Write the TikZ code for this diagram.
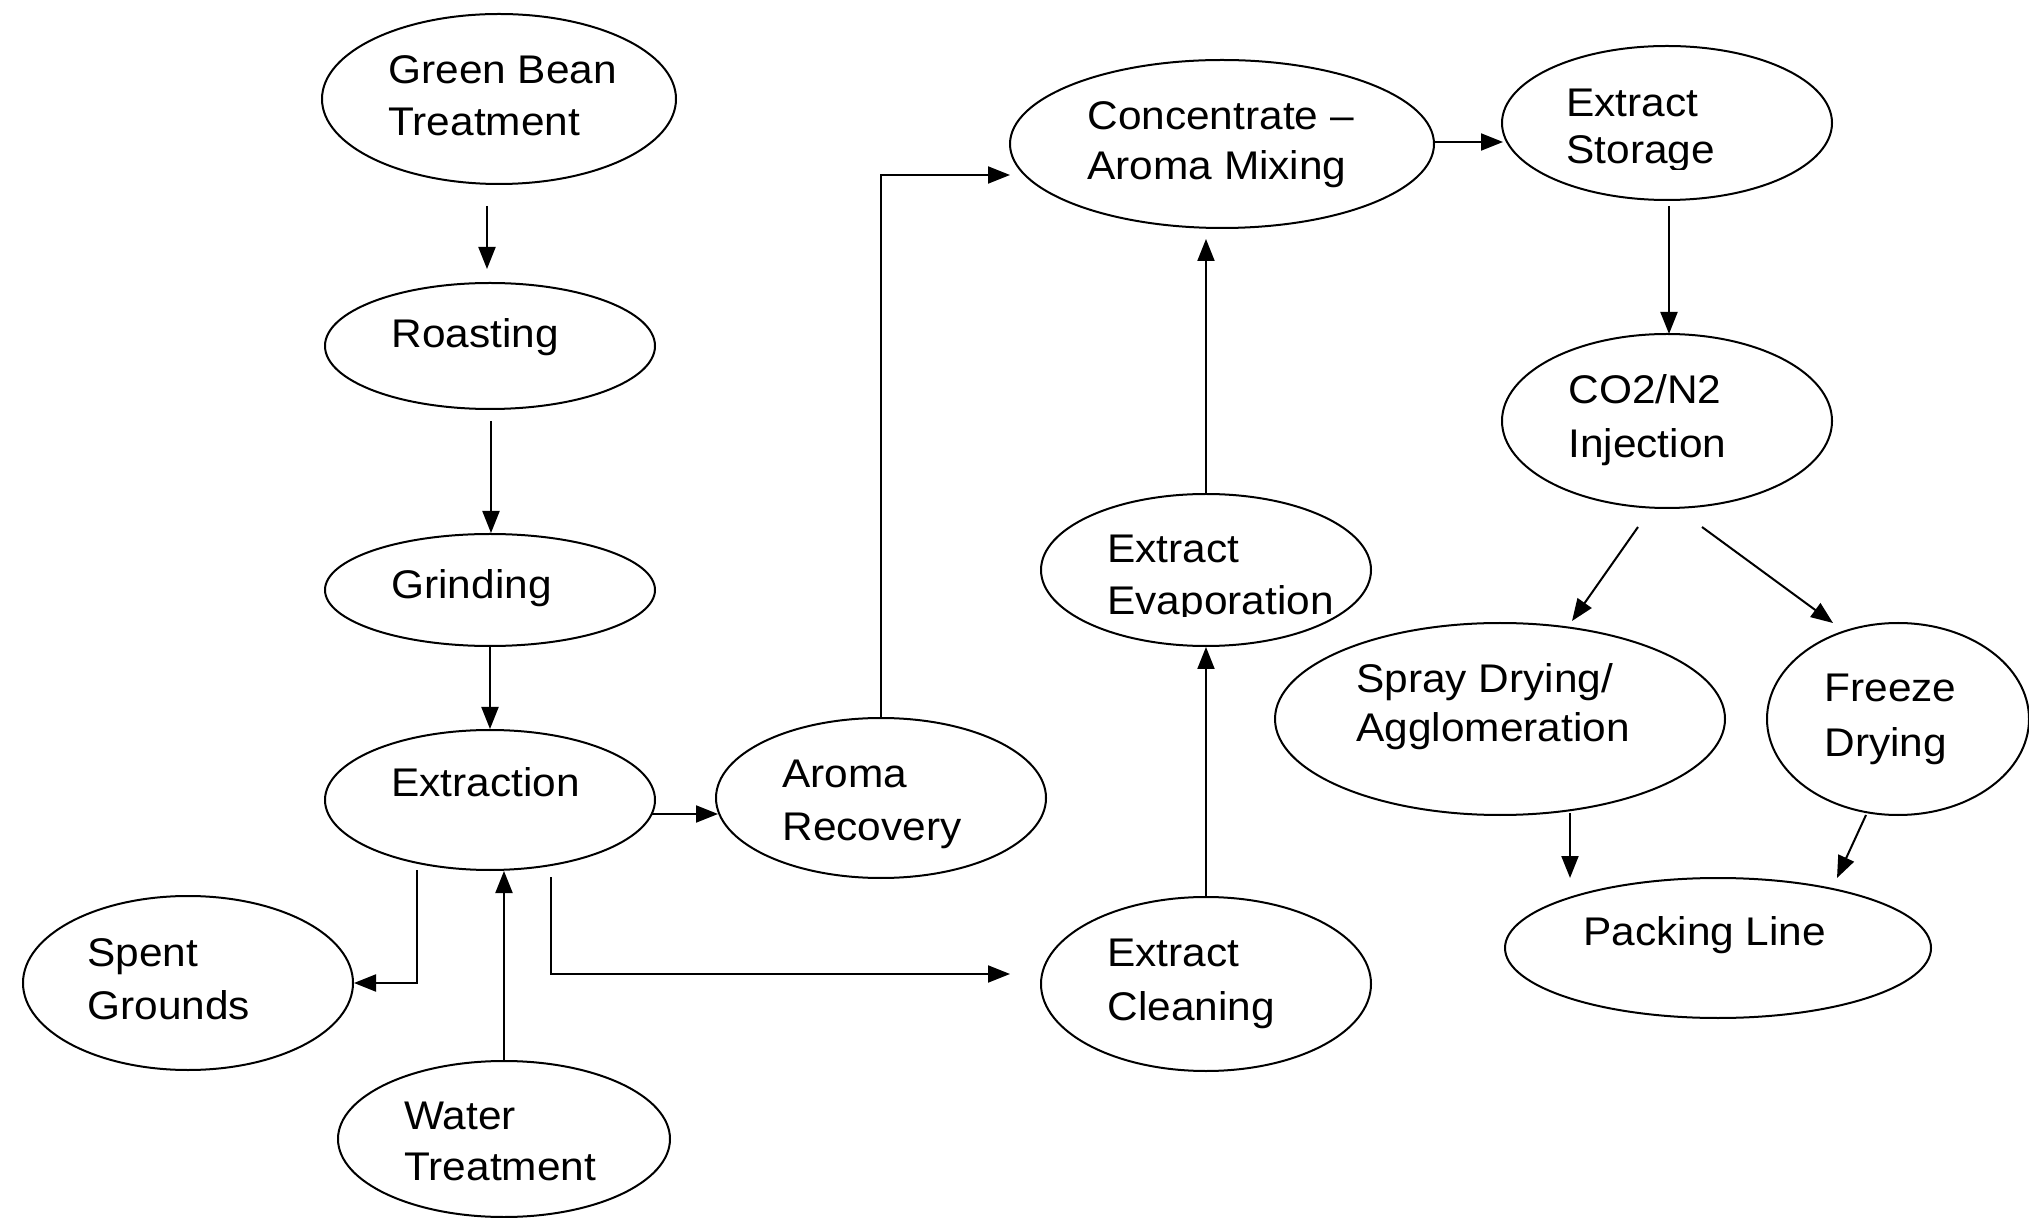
\documentclass[tikz,border=0pt]{standalone}
\usepackage{fontspec}
\setmainfont{Liberation Sans}[FakeStretch=1.06]
\usetikzlibrary{shapes.geometric,arrows.meta}
\tikzset{
  ell/.style={draw, ellipse, inner sep=0pt, line width=1pt},
  lbl/.style={anchor=base west, inner sep=0pt, font=\fontsize{20}{24}\selectfont},
  arr/.style={-{Triangle[length=11pt,width=8.5pt]}, line width=1pt},
}
\begin{document}
\begin{tikzpicture}[x=0.5pt,y=-0.5pt]
\useasboundingbox (0,0) rectangle (2029,1218);
% ellipses
\node[ell, minimum width=177pt, minimum height=85pt] (gb) at (499,99) {};
\node[ell, minimum width=165pt, minimum height=63pt] (roast) at (490,346) {};
\node[ell, minimum width=165pt, minimum height=56pt] (grind) at (490,590) {};
\node[ell, minimum width=165pt, minimum height=70pt] (extr) at (490,800) {};
\node[ell, minimum width=165pt, minimum height=80pt] (aroma) at (881,798) {};
\node[ell, minimum width=165pt, minimum height=87pt] (spent) at (188,983) {};
\node[ell, minimum width=166pt, minimum height=78pt] (water) at (504,1139) {};
\node[ell, minimum width=212pt, minimum height=84pt] (conc) at (1222,144) {};
\node[ell, minimum width=165pt, minimum height=77pt] (store) at (1667,123) {};
\node[ell, minimum width=165pt, minimum height=87pt] (co2) at (1667,421) {};
\node[ell, minimum width=165pt, minimum height=76pt] (evap) at (1206,570) {};
\node[ell, minimum width=165pt, minimum height=87pt] (clean) at (1206,984) {};
\node[ell, minimum width=225pt, minimum height=96pt] (spray) at (1500,719) {};
\node[ell, minimum width=131pt, minimum height=96pt] (freeze) at (1898,719) {};
\node[ell, minimum width=213pt, minimum height=70pt] (pack) at (1718,948) {};
% labels
\node[lbl] (gbt1) at (388,84) {Green Bean};
\node[lbl] (gbt2) at (388,136) {Treatment};
\node[lbl] (roastt) at (391,348) {Roasting};
\node[lbl] (grindt) at (391,599) {Grinding};
\node[lbl] (extrt) at (391,797) {Extraction};
\node[lbl] (aromat1) at (782,788) {Aroma};
\node[lbl] (aromat2) at (782,840) {Recovery};
\node[lbl] (spentt1) at (87,966) {Spent};
\node[lbl] (spentt2) at (87,1019) {Grounds};
\node[lbl] (watert1) at (404,1129) {Water};
\node[lbl] (watert2) at (404,1180) {Treatment};
\node[lbl] (conct1) at (1087,130) {Concentrate –};
\node[lbl] (conct2) at (1087,180) {Aroma Mixing};
\node[lbl] (storet1) at (1566,117) {Extract};
\begin{scope}
\clip (1550,120) rectangle (1760,170);
\node[lbl] (storet2) at (1566,164) {Storage};
\end{scope}
\node[lbl] (co2t1) at (1568,404) {CO2/N2};
\node[lbl] (co2t2) at (1568,458) {Injection};
\node[lbl] (evapt1) at (1107,563) {Extract};
\begin{scope}
\clip (1090,570) rectangle (1370,617);
\node[lbl] (evapt2) at (1107,615) {Evaporation};
\end{scope}
\node[lbl] (cleant1) at (1107,966) {Extract};
\node[lbl] (cleant2) at (1107,1020) {Cleaning};
\node[lbl] (sprayt1) at (1356,693) {Spray Drying/};
\node[lbl] (sprayt2) at (1356,742) {Agglomeration};
\node[lbl] (freezet1) at (1824,702) {Freeze};
\node[lbl] (freezet2) at (1824,756) {Drying};
\node[lbl] (packt) at (1583,945) {Packing Line};
% connector end points
\coordinate (c1a) at (487,206);
\coordinate (c1b) at (487,269);
\coordinate (c2a) at (491,421);
\coordinate (c4a) at (652,814);
\coordinate (c4b) at (718,814);
\coordinate (c5b) at (1010,175);
\coordinate (c6a) at (1434,142);
\coordinate (c6b) at (1503,142);
\coordinate (c7a) at (1669,206);
\coordinate (c7b) at (1669,334);
\coordinate (c8a) at (1638,527);
\coordinate (c8b) at (1572,621);
\coordinate (c9a) at (1702,527);
\coordinate (c9b) at (1833,623);
\coordinate (c10a) at (1570,813);
\coordinate (c10b) at (1570,878);
\coordinate (c11a) at (1866,815);
\coordinate (c11b) at (1837,878);
\coordinate (c13b) at (1208,239);
\coordinate (c14a) at (417,870);
\coordinate (c16a) at (551,877);
\coordinate (c16b) at (1010,974);
% connectors
\draw[arr] (c1a) -- (c1b);
\draw[arr] (c2a) -- (c2a |- grind.north);
\draw[arr] (grind.south) -- (extr.north);
\draw[arr] (c4a) -- (c4b);
\draw[arr] (aroma.north) |- (c5b);
\draw[arr] (c6a) -- (c6b);
\draw[arr] (c7a) -- (c7b);
\draw[arr] (c8a) -- (c8b);
\draw[arr] (c9a) -- (c9b);
\draw[arr] (c10a) -- (c10b);
\draw[arr] (c11a) -- (c11b);
\draw[arr] (clean.north) -- (evap.south);
\draw[arr] (evap.north) -- (evap.north |- c13b);
\draw[arr] (c14a) |- (spent.east);
\draw[arr] (water.north) -- (water.north |- extr.south);
\draw[arr] (c16a) |- (c16b);
\end{tikzpicture}
\end{document}
